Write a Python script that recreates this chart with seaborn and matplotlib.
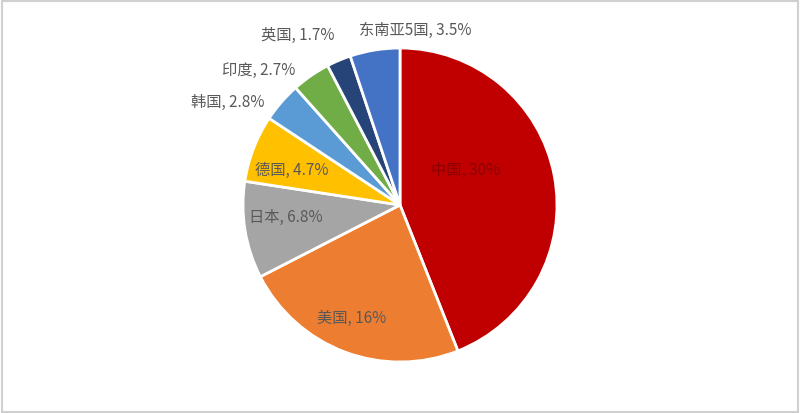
import matplotlib
matplotlib.use("Agg")
import matplotlib.pyplot as plt
import seaborn as sns
from matplotlib.patches import Rectangle

# data
countries = ["中国", "美国", "日本", "德国", "韩国", "印度", "英国", "东南亚5国"]
shares = [30, 16, 6.8, 4.7, 2.8, 2.7, 1.7, 3.5]
share_labels = ["30%", "16%", "6.8%", "4.7%", "2.8%", "2.7%", "1.7%", "3.5%"]

colors = ["#C00000", "#ED7D31", "#A5A5A5", "#FFC000",
          "#5B9BD5", "#70AD47", "#264478", "#4472C4"]

# label placement (in pie-radius units) and colour
label_pos = [(0.42, 0.22), (-0.31, -0.72), (-0.73, -0.08), (-0.69, 0.22),
             (-1.10, 0.65), (-0.90, 0.86), (-0.65, 1.08), (0.10, 1.11)]
label_colors = ["#8B0000"] + ["#595959"] * 7

sns.set_theme(style="white")
plt.rcParams["font.family"] = ["Noto Sans CJK SC", "DejaVu Sans"]

fig = plt.figure(figsize=(8, 4.13), dpi=100)
ax = fig.add_axes([0, 0, 1, 1])
wedges, _ = ax.pie(shares, colors=colors, startangle=90, counterclock=False,
                   radius=1, center=(0, 0),
                   wedgeprops=dict(edgecolor="white", linewidth=2))

for name, lab, (x, y), c in zip(countries, share_labels, label_pos, label_colors):
    ax.text(x, y, f"{name}, {lab}", ha="center", va="center",
            fontsize=11, color=c)

ax.set_xlim(-400 / 157, 400 / 157)
ax.set_ylim(-208 / 157, 205 / 157)
ax.set_aspect("auto")
ax.axis("off")

# light frame around the picture
fig.patches.append(Rectangle((0.002, 0.003), 0.996, 0.994, transform=fig.transFigure,
                             fill=False, edgecolor="#D0D0D0", linewidth=1.5))

fig.savefig("out.png", dpi=100)
